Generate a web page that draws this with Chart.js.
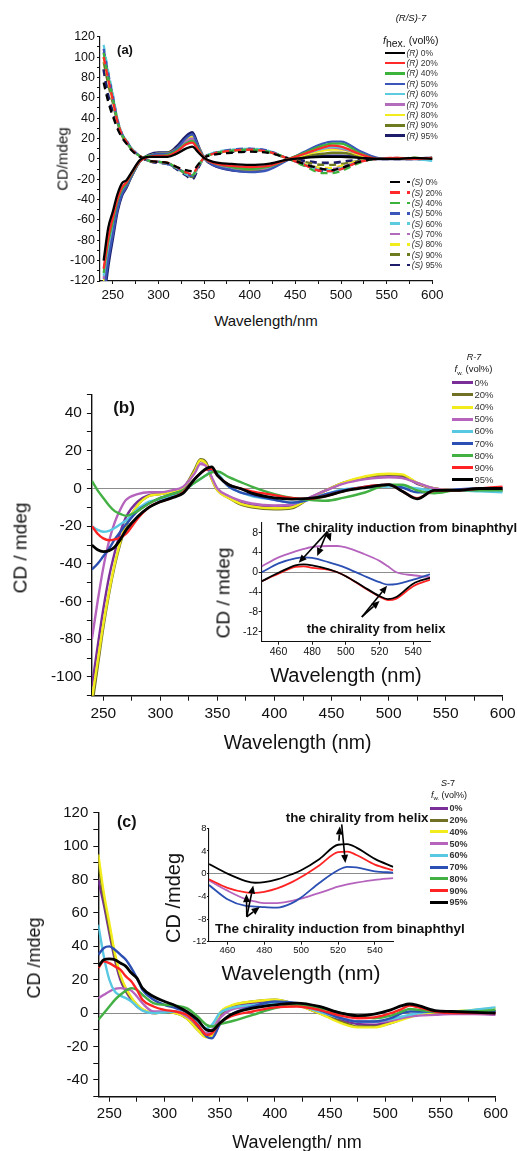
<!DOCTYPE html>
<html lang="en">
<head>
  <meta charset="UTF-8" />
  <title>CD spectra of (R/S)-7</title>
  <script src="https://cdn.jsdelivr.net/npm/chart.js"></script>
  <style>
    body { margin: 0; background: #fff; font-family: 'Liberation Sans', Arial, sans-serif; color: #111; }
    #page { position: relative; width: 517px; height: 1151px; overflow: hidden; }
    canvas { position: absolute; }
    .t { position: absolute; white-space: nowrap; line-height: 1; }
    .sw { position: absolute; }
  </style>
</head>
<body>
<div id="page">
  <canvas id="chartA" width="517" height="300" style="left:0;top:0"></canvas>
  <canvas id="chartB" width="517" height="400" style="left:0;top:340px"></canvas>
  <canvas id="chartC" width="517" height="391" style="left:0;top:760px"></canvas>
  <canvas id="insetB" width="250" height="170" style="left:200px;top:500px"></canvas>
  <canvas id="insetC" width="260" height="170" style="left:150px;top:800px"></canvas>
</div>

<script>
  Chart.defaults.font.family = "'Liberation Sans', Arial, sans-serif";

  // ---- data: panel (a), (R/S)-7 in hexane mixtures ----
  const wlA = [240, 245, 250, 255, 260, 265, 270, 280, 290, 300, 310, 320, 330, 337, 344, 350, 360, 380, 400, 420, 440, 460, 480, 490, 500, 520, 540, 560, 580, 600];
  const aR0  = [-100, -68, -52, -35, -24, -21, -14, -1, 2, 2, 2, 5, 10, 12, 6, 1, -3, -5, -6, -5, -1, 1, 2, 2, 2, 1, 0, 0, 1, 0];
  const aR20 = [-108, -78, -58, -40, -28, -23, -15, -2, 2, 3, 3, 7, 14, 16, 8, 1, -4, -7, -8, -7, -1, 5, 11, 13, 12, 5, 0, 1, 0, 1];
  const aR40 = [-112, -82, -62, -42, -30, -24, -16, -2, 3, 3, 4, 8, 15, 18, 9, 1, -4, -8, -10, -8, -1, 6, 13, 15, 15, 6, 0, 0, 1, 0];
  const aR50 = [-135, -100, -75, -50, -35, -27, -18, -2, 3, 5, 5, 10, 20, 24, 11, 1, -6, -11, -13, -11, -2, 7, 15, 17, 17, 8, 1, 0, 0, 0];
  const aR60 = [-115, -86, -65, -44, -31, -25, -16, -2, 3, 4, 4, 8, 15, 17, 9, 1, -4, -8, -9, -8, -1, 5, 10, 12, 11, 5, 0, 0, 0, -2];
  const aR70 = [-118, -88, -67, -45, -32, -25, -17, -2, 3, 4, 5, 9, 17, 20, 10, 1, -5, -9, -10, -9, -1, 5, 10, 11, 10, 5, 0, 1, 0, 0];
  const aR80 = [-122, -91, -69, -47, -33, -26, -17, -2, 3, 5, 5, 10, 18, 22, 11, 1, -5, -9, -10, -9, -1, 4, 8, 9, 9, 4, 0, 0, 1, 0];
  const aR90 = [-126, -94, -71, -49, -34, -27, -18, -2, 3, 5, 6, 10, 19, 23, 11, 1, -5, -10, -11, -10, -1, 3, 5, 6, 6, 3, 0, 0, 0, 1];
  const aR95 = [-140, -105, -78, -52, -36, -28, -18, -2, 4, 6, 6, 12, 22, 26, 12, 1, -6, -11, -12, -10, -1, 2, 3, 3, 3, 2, 0, 0, 0, 1];
  const aS0  = [75, 56, 42, 30, 21, 15, 9, 2, -2, -3, -4, -8, -11, -12, -5, 1, 4, 6, 7, 6, 1, -5, -10, -11, -9, -3, 0, 0, 0, 0];
  const aS20 = [100, 78, 58, 37, 24, 17, 10, 2.5, -2, -3, -4, -8, -13, -15, -6, 1, 5, 8, 9, 7, 1, -6, -12, -12, -10, -3, 0, 1, 0, 0];
  const aS40 = [104, 80, 60, 38, 24, 17, 10, 2.5, -2, -3, -4, -9, -14, -16, -6, 1, 5, 8, 9, 7, 1, -7, -14, -14, -12, -4, 0, 0, 1, 0];
  const aS50 = [108, 84, 62, 39, 25, 18, 11, 2.5, -2, -3, -5, -9, -14, -17, -7, 1, 5, 9, 10, 8, 1, -6, -12, -12, -10, -3, 0, 0, 0, 1];
  const aS60 = [112, 86, 64, 40, 25, 18, 11, 2.5, -2, -3, -5, -9, -15, -17, -7, 1, 6, 9, 10, 8, 1, -6, -11, -11, -9, -3, 0, 0, 0, -2];
  const aS70 = [105, 81, 60, 38, 24, 17, 10, 2.5, -2, -3, -4, -9, -14, -16, -6, 1, 5, 8, 9, 7, 1, -5, -10, -10, -8, -3, 0, 0, 0, 0];
  const aS80 = [100, 77, 57, 37, 24, 17, 10, 2.5, -2, -3, -4, -8, -14, -17, -7, 1, 5, 8, 9, 7, 1, -5, -9, -9, -7, -2, 0, 1, 0, 0];
  const aS90 = [95, 73, 55, 36, 23, 16, 10, 2.5, -2, -3, -4, -9, -15, -18, -7, 1, 5, 8, 9, 7, 1, -3, -6, -6, -5, -2, 0, 0, 0, 1];
  const aS95 = [88, 62, 46, 33, 23, 17, 10, 2, -2, -4, -5, -10, -16, -20, -8, 1, 5, 7, 8, 7, 1, -2, -4, -4, -3, -1, 0, 0, 0, 0];

  // ---- data: panel (b), R-7 in water mixtures ----
  const wlB = [240, 245, 250, 255, 260, 265, 270, 280, 290, 300, 310, 320, 330, 335, 340, 345, 350, 360, 370, 380, 400, 415, 430, 445, 460, 480, 500, 512, 525, 540, 560, 580, 600];
  const bW0  = [-105, -84, -64, -47, -34, -23, -15, -7, -3.5, -2.5, -1.5, 0.5, 9, 14.5, 13.5, 5.5, -0.5, -4.5, -7.5, -9, -10, -9.5, -5.2, -1, 2.8, 6, 7, 6.5, 2.5, 0, -1, -1, -1];
  const bW20 = [-116, -95, -74, -56, -41, -29, -20, -9, -4, -3, -2, 0, 10, 15.5, 14, 5, -1, -5, -8.5, -10, -11, -10.5, -5.5, -1, 3, 6, 7.5, 7, 3, 0, -1, -1, -1];
  const bW40 = [-112, -92, -72, -55, -40, -28, -19, -9, -4, -3, -2, 0, 9, 15, 13, 5, -1, -5, -8, -9.5, -10.5, -10, -5.5, -1, 3, 6.5, 7.8, 7.5, 3, 0, -1, -1, -1];
  const bW50 = [-80, -60, -42, -28, -18, -11, -6, -3, -2, -2, -1, 1, 8, 13, 12, 6, 0, -4, -6.5, -8, -9, -8.5, -5, -1, 2.5, 5, 6, 5.5, 3, 0, -1, -1, -1];
  const bW60 = [-20, -22, -23, -22.5, -21, -19, -17, -11, -7, -6, -4, -1, 3, 5, 7, 9, 8, 1, -2, -4, -6, -7.5, -6, -3, -0.5, 0.5, 1, 1, 0, -1, -1, -1.5, -2];
  const bW70 = [-43, -40, -36, -32, -27, -23, -19, -12, -8, -5, -3, -1, 5, 8, 10, 10, 7, 1, -2, -3.5, -6, -7.5, -6, -3, -1, 1, 2, 0.5, -2, -2, -0.5, 0, 0];
  const bW80 = [4, -1, -5, -9, -12, -13.5, -14.5, -12, -8, -5, -3, -1, 3, 5, 7, 8.5, 9, 6, 3.5, 1, -3, -5, -6, -6.5, -5, -2, 2, 2, -1, -2.5, -1, -1, -1];
  const bW90 = [-20, -24, -26.5, -27.5, -27, -26, -24, -16, -10, -7, -5, -2, 5, 8, 10, 10.5, 7, 2, 0, -1.5, -3.5, -5, -5.5, -4, -1.5, 1, 2, -1.5, -5.2, -1.2, -1, 0, 1];
  const bW95 = [-30, -32.5, -33.5, -33, -31, -27, -22, -15, -10, -7, -5, -2.5, 5, 8, 10.5, 11.5, 7, 2, 0, -2.5, -5, -5.6, -5.2, -4, -1.5, 0.5, 2, -1.5, -5.5, -1, -1, 0, 0];

  // inset (b): 450-550 nm
  const wlBi = [450, 460, 470, 475, 480, 490, 495, 500, 510, 520, 525, 530, 540, 550];
  const biW50 = [1.2, 3, 4.2, 4.7, 5.1, 5.3, 5.3, 5, 3.8, 2.3, 1.2, 0, -0.6, -1];
  const biW70 = [0, 1.8, 2.8, 3, 2.9, 2, 1.5, 0.9, -0.6, -2, -2.5, -2.4, -1.5, -0.4];
  const biW90 = [-1.8, -0.3, 1.1, 1.2, 0.9, 0.5, 0, -0.8, -2.9, -4.9, -5.6, -5.3, -2.8, -1.5];
  const biW95 = [-1.8, -0.1, 1.4, 1.6, 1.4, 0.6, 0, -0.8, -2.8, -4.8, -5.4, -5, -2.3, -1.1];

  // ---- data: panel (c), S-7 in water mixtures ----
  const wlC = [240, 245, 250, 255, 260, 265, 270, 275, 280, 290, 300, 310, 320, 330, 338, 343, 350, 360, 380, 400, 420, 440, 460, 475, 490, 505, 515, 522, 530, 545, 560, 580, 600];
  const cW0  = [80, 65, 48, 32, 20, 13, 8, 4, 2, 0, 1, 0, -2, -8, -13, -12, -3, 4, 6, 7.5, 5, 1, -4, -6.5, -7, -5, -3, -1.5, -1, 0, 1, 1, 1];
  const cW20 = [90, 69, 51, 34, 22, 14, 9, 5, 2, 0, 0.5, 0, -3, -10, -14, -13, -2, 4, 7, 8, 5, 0, -5, -8, -8, -6, -3.5, -2, -1, 0, 1, 1, 1];
  const cW40 = [95, 72, 54, 36, 23, 15, 9.5, 5, 2.5, 0, 1, 0, -3, -10, -14.5, -13, 0, 4.5, 7, 8, 5, 0, -6, -8.5, -8.5, -6, -4, -2.5, -1, 0.5, 1, 2, 3];
  const cW50 = [9, 11, 13, 14.5, 15, 14.5, 13.5, 10, 6, 1, 1, 1, -2, -7, -12, -10, -3, 2, 4, 6, 5, 1, -3, -5, -5.5, -4.5, -3, -2, -1.5, -1, -0.5, -0.5, -1];
  const cW60 = [53, 34, 20, 13, 10.5, 9, 7, 4, 1.5, 0, 0.5, 1, -1, -5, -9, -7, 0, 3, 5, 6, 5, 1, -3, -5, -5, -3.5, -2, -1, 0, 1, 1, 2, 3.5];
  const cW70 = [35, 39, 40, 38, 35, 32, 27, 21, 14, 8, 5, 3, 0.5, -7, -14, -15, -7, -1, 4, 7, 6, 2, -3, -5, -5, -3, 0, 1, 1, 1, 1, 1, 1];
  const cW80 = [-4, 0, 4, 8, 11, 13.5, 15, 14, 11, 6, 5, 4.5, 3, -2, -7, -8, -6.5, -5, -1, 3, 5, 3, 0, -2, -3, -1.5, 1, 2.5, 2, 1, 1, 1, 2];
  const cW90 = [27, 31, 30, 28, 26, 22, 19, 14, 8, 4, 2, 1, -1, -7, -13, -12, -6, -2, 1, 3.5, 4, 2, -1.5, -3, -2.5, 0, 2.5, 4.5, 3.5, 1, 0, 0, 0];
  const cW95 = [28, 32, 32.5, 32, 30, 28, 24, 21, 15, 10, 7, 4.5, 1, -4, -10, -10.5, -6, -1, 3, 5, 6, 4, 0, -1.5, -0.5, 2, 4.5, 5.5, 4.5, 1.5, 1, 0.5, 0];

  // inset (c): 450-550 nm
  const wlCi = [450, 460, 470, 475, 480, 487, 495, 500, 510, 520, 525, 530, 540, 550];
  const ciW50 = [-1.2, -3, -4.5, -4.9, -5.2, -5.2, -4.8, -4.4, -3.4, -2.3, -1.9, -1.6, -1.1, -0.8];
  const ciW70 = [-2, -4.5, -5.7, -5.8, -5.9, -6, -5.2, -4.2, -1.6, 0.6, 1.2, 1.1, 0.4, 0.2];
  const ciW90 = [-1, -2.5, -3.3, -3.4, -3.2, -2.6, -1.5, -0.6, 1.5, 3.8, 3.9, 3.3, 1.6, 0.6];
  const ciW95 = [1.7, 0, -1.3, -1.6, -1.5, -1, -0.1, 0.6, 2.6, 5.1, 5.2, 4.6, 2.6, 1.2];

  // legend entries and ticks
  const fractions = ['0%', '20%', '40%', '50%', '60%', '70%', '80%', '90%', '95%'];
  const xLabels = [250, 300, 350, 400, 450, 500, 550, 600];
  const xMinor = [275, 325, 375, 425, 475, 525, 575];
  const yLabelsA = [-120, -100, -80, -60, -40, -20, 0, 20, 40, 60, 80, 100, 120];
  const yMinorA = [-110, -90, -70, -50, -30, -10, 10, 30, 50, 70, 90, 110];
  const yLabelsB = [-100, -80, -60, -40, -20, 0, 20, 40];
  const yMinorB = [-110, -90, -70, -50, -30, -10, 10, 30, 50];
  const yLabelsC = [-40, -20, 0, 20, 40, 60, 80, 100, 120];
  const yMinorC = [-50, -30, -10, 10, 30, 50, 70, 90, 110];
  const xLabelsIn = [460, 480, 500, 520, 540];
  const yLabelsIn = [-12, -8, -4, 0, 4, 8];

  // arrows in data units: [fromX, fromY, toX, toY]
  const arrowsB = [[489, 8.2, 472, 1.9], [489, 8.2, 483, 3.3], [489, 8.2, 491, 6.2], [509.5, -9, 524.5, -2.7], [509.5, -9, 520, -5.8]];
  const arrowsC = [[522, 8.7, 524, 1.9], [520.5, 5.8, 521, 8.3], [470.5, -7.6, 474, -2.1], [470.5, -7.6, 470.3, -3.6], [470.5, -7.6, 477.5, -5.9]];

  const colA = ['#000000', '#ff2b2b', '#3cb43c', '#3a56b8', '#5ccbe0', '#b36bbb', '#f2ec1c', '#6e7a1e', '#1d1d6b'];
  const colW = ['#7a2f98', '#717126', '#f2ec1c', '#b563bd', '#58c8e2', '#2b4fb2', '#42b042', '#ff2323', '#000000'];
  const colIn = ['#b563bd', '#2b4fb2', '#ff2323', '#000000'];

  const page = document.getElementById('page');

  function pts(xs, ys) {
    return ys.map((y, i) => ({ x: xs[i], y: y }));
  }

  function scale(o) {
    return {
      type: 'linear', min: o.min, max: o.max,
      afterBuildTicks: s => { s.ticks = o.ticks.map(v => ({ value: v })); },
      afterFit: s => { if (o.y) s.width = o.size; else s.height = o.size; },
      ticks: {
        autoSkip: false, maxRotation: 0, minRotation: 0, padding: o.pad, color: '#111',
        font: { size: o.font },
        callback: v => o.labels.indexOf(v) >= 0 ? String(v) : ''
      },
      grid: {
        drawOnChartArea: !!o.zero, drawTicks: true, tickLength: o.tl, tickColor: '#111', tickWidth: 1,
        color: c => (o.zero && c.tick && c.tick.value === 0) ? '#8c8c8c' : 'rgba(0,0,0,0)',
        lineWidth: 1
      },
      border: { display: true, color: '#111', width: o.bw || 1.4 }
    };
  }

  function arrowPlugin(list) {
    return {
      id: 'arrows',
      afterDatasetsDraw(chart) {
        const ctx = chart.ctx, sx = chart.scales.x, sy = chart.scales.y;
        ctx.save();
        ctx.strokeStyle = '#000';
        ctx.fillStyle = '#000';
        ctx.lineWidth = 1.6;
        list.forEach(a => {
          const x1 = sx.getPixelForValue(a[0]), y1 = sy.getPixelForValue(a[1]);
          const x2 = sx.getPixelForValue(a[2]), y2 = sy.getPixelForValue(a[3]);
          const ang = Math.atan2(y2 - y1, x2 - x1), L = 8, W = 3.5;
          const bx = x2 - L * Math.cos(ang), by = y2 - L * Math.sin(ang);
          ctx.beginPath(); ctx.moveTo(x1, y1); ctx.lineTo(bx, by); ctx.stroke();
          ctx.beginPath();
          ctx.moveTo(x2, y2);
          ctx.lineTo(bx + W * Math.sin(ang), by - W * Math.cos(ang));
          ctx.lineTo(bx - W * Math.sin(ang), by + W * Math.cos(ang));
          ctx.closePath(); ctx.fill();
        });
        ctx.restore();
      }
    };
  }

  function makeChart(id, datasets, pad, xs, ys, extra) {
    return new Chart(document.getElementById(id), {
      type: 'line',
      data: { datasets: datasets },
      options: {
        responsive: false, animation: false, events: [],
        layout: { padding: pad },
        plugins: { legend: { display: false }, tooltip: { enabled: false } },
        scales: { x: xs, y: ys }
      },
      plugins: extra || []
    });
  }

  function line(xs, ys, color, width, order, dash) {
    return {
      data: pts(xs, ys), borderColor: color, borderWidth: width, borderDash: dash || [],
      pointRadius: 0, fill: false, cubicInterpolationMode: 'monotone', order: order
    };
  }

  // panel (a)
  const setsR = [aR0, aR20, aR40, aR50, aR60, aR70, aR80, aR90, aR95];
  const setsS = [aS0, aS20, aS40, aS50, aS60, aS70, aS80, aS90, aS95];
  const dsA = [];
  setsR.forEach((d, i) => dsA.push(line(wlA, d, colA[i], i === 8 ? 2.8 : 2.3, i)));
  setsS.forEach((d, i) => dsA.push(line(wlA, d, colA[i], i === 8 ? 2.8 : 2.3, 10 + i, [7, 5])));
  makeChart('chartA', dsA, { left: 55, right: 84.7, top: 36.7, bottom: 0 },
    scale({ min: 236, max: 600, ticks: xLabels.concat(xMinor), labels: xLabels, size: 19, font: 13.5, tl: 3, pad: 3, bw: 1.2 }),
    scale({ y: true, min: -120, max: 120, ticks: yLabelsA.concat(yMinorA), labels: yLabelsA, size: 45, font: 12.5, tl: 3, pad: 2, bw: 1.2 }));

  // panel (b)
  const setsB = [bW0, bW20, bW40, bW50, bW60, bW70, bW80, bW90, bW95];
  makeChart('chartB', setsB.map((d, i) => line(wlB, d, colW[i], i === 8 ? 2.8 : 2.4, -i)),
    { left: 41.9, right: 14.3, top: 54.3, bottom: 19.3 },
    scale({ min: 240, max: 600, ticks: xLabels.concat(xMinor), labels: xLabels, size: 25, font: 15.5, tl: 5, pad: 3.3 }),
    scale({ y: true, min: -110, max: 50, ticks: yLabelsB.concat(yMinorB), labels: yLabelsB, size: 50, font: 15.5, tl: 5, pad: 5, zero: true }));

  const setsBi = [biW50, biW70, biW90, biW95];
  makeChart('insetB', setsBi.map((d, i) => line(wlBi, d, colIn[i], 1.8, -i)),
    { left: 31.7, right: 20, top: 22.7, bottom: 13.3 },
    scale({ min: 450, max: 550, ticks: xLabelsIn, labels: xLabelsIn, size: 15, font: 10.5, tl: 3, pad: 0.7, bw: 1.1 }),
    scale({ y: true, min: -14, max: 10, ticks: yLabelsIn, labels: yLabelsIn, size: 30, font: 10.5, tl: 3, pad: 0.5, zero: true, bw: 1.1 }),
    [arrowPlugin(arrowsB)]);

  // panel (c)
  const setsC = [cW0, cW20, cW40, cW50, cW60, cW70, cW80, cW90, cW95];
  makeChart('chartC', setsC.map((d, i) => line(wlC, d, colW[i], i === 8 ? 2.8 : 2.4, -i)),
    { left: 48.3, right: 21.3, top: 52.7, bottom: 29.3 },
    scale({ min: 240, max: 600, ticks: xLabels.concat(xMinor), labels: xLabels, size: 25, font: 15, tl: 5, pad: 3.3 }),
    scale({ y: true, min: -50, max: 120, ticks: yLabelsC.concat(yMinorC), labels: yLabelsC, size: 50, font: 15, tl: 5, pad: 5, zero: true }));

  const setsCi = [ciW50, ciW70, ciW90, ciW95];
  makeChart('insetC', setsCi.map((d, i) => line(wlCi, d, colIn[i], 1.8, -i)),
    { left: 29, right: 16.7, top: 28.3, bottom: 14.3 },
    scale({ min: 450, max: 550, ticks: xLabelsIn, labels: xLabelsIn, size: 14, font: 9.5, tl: 3, pad: 0.3, bw: 1.1 }),
    scale({ y: true, min: -12, max: 8, ticks: yLabelsIn, labels: yLabelsIn, size: 30, font: 9.5, tl: 2, pad: 0.5, zero: true, bw: 1.1 }),
    [arrowPlugin(arrowsC)]);

  // ---- texts ----
  function addText(html, x, y, css, mode) {
    const d = document.createElement('div');
    d.className = 't';
    d.innerHTML = html;
    d.style.cssText = 'left:' + x + 'px;top:' + y + 'px;' + (css || '');
    d.style.transform = mode === 'rot' ? 'translate(-50%,-50%) rotate(-90deg)'
      : mode === 'left' ? 'translate(0,-50%)' : 'translate(-50%,-50%)';
    page.appendChild(d);
  }
  function addSwatch(x1, x2, y, color, w) {
    const d = document.createElement('div');
    d.className = 'sw';
    d.style.cssText = 'left:' + x1 + 'px;top:' + (y - w / 2) + 'px;width:' + (x2 - x1) + 'px;height:' + w + 'px;background:' + color;
    page.appendChild(d);
  }

  // panel (a) texts
  addText('(a)', 125, 49, 'font-size:13px;font-weight:bold');
  addText('CD/mdeg', 62, 159, 'font-size:15px', 'rot');
  addText('Wavelength/nm', 266, 320, 'font-size:15px');
  addText('<i>(R/S)-7</i>', 411, 18, 'font-size:9.5px');
  addText('<i>f</i><span style="position:relative;top:3px">hex.</span> (vol%)', 383, 40, 'font-size:10.5px', 'left');
  fractions.forEach((f, i) => {
    const y = 52.7 + i * 10.375;
    addSwatch(385, 405, y, colA[i], i === 8 ? 2.8 : 2.4);
    addText('<i>(R)</i> ' + f, 406.5, y, 'font-size:8.5px;color:#333', 'left');
  });
  fractions.forEach((f, i) => {
    const y = 182.3 + i * 10.34;
    addSwatch(390, 400, y, colA[i], i === 8 ? 2.8 : 2.4);
    addSwatch(407, 410, y, colA[i], i === 8 ? 2.8 : 2.4);
    addText('<i>(S)</i> ' + f, 411.7, y, 'font-size:8.5px;color:#333', 'left');
  });

  // panel (b) texts
  addText('(b)', 124, 406.7, 'font-size:17px;font-weight:bold');
  addText('CD / mdeg', 20, 548, 'font-size:19px', 'rot');
  addText('Wavelength (nm)', 297.7, 743.3, 'font-size:19.5px');
  addText('<i>R</i>-7', 474, 357, 'font-size:9px;font-style:italic');
  addText('<i>f</i><sub style="font-size:6px">w.</sub> (vol%)', 473.5, 370, 'font-size:9.5px');
  fractions.forEach((f, i) => {
    const y = 382.7 + i * 12.16;
    addSwatch(452.3, 473.3, y, colW[i], 3);
    addText(f, 474.5, y, 'font-size:9.5px;color:#333', 'left');
  });
  addText('CD / mdeg', 222.7, 593, 'font-size:19px', 'rot');
  addText('Wavelength (nm)', 346, 675, 'font-size:20px');
  addText('The chirality induction from binaphthyl', 276.7, 527.3, 'font-size:13px;font-weight:bold', 'left');
  addText('the chirality from helix', 306.7, 628.3, 'font-size:13px;font-weight:bold', 'left');

  // panel (c) texts
  addText('(c)', 126.7, 821.7, 'font-size:16px;font-weight:bold');
  addText('CD /mdeg', 34, 958, 'font-size:18px', 'rot');
  addText('Wavelength/ nm', 297, 1141.7, 'font-size:18px');
  addText('<i>S</i>-7', 448, 783.3, 'font-size:9px');
  addText('<i>f</i><sub style="font-size:6px">w.</sub> (vol%)', 449, 796, 'font-size:9px');
  fractions.forEach((f, i) => {
    const y = 808.3 + i * 11.75;
    addSwatch(430, 448.3, y, colW[i], 3);
    addText(f, 449.5, y, 'font-size:9px;font-weight:bold;color:#333', 'left');
  });
  addText('CD /mdeg', 173.3, 898, 'font-size:20px', 'rot');
  addText('Wavelength (nm)', 301, 972.3, 'font-size:21px');
  addText('the chirality from helix', 285.7, 817.7, 'font-size:13.4px;font-weight:bold', 'left');
  addText('The chirality induction from binaphthyl', 215, 929, 'font-size:13.5px;font-weight:bold', 'left');
</script>
</body>
</html>
